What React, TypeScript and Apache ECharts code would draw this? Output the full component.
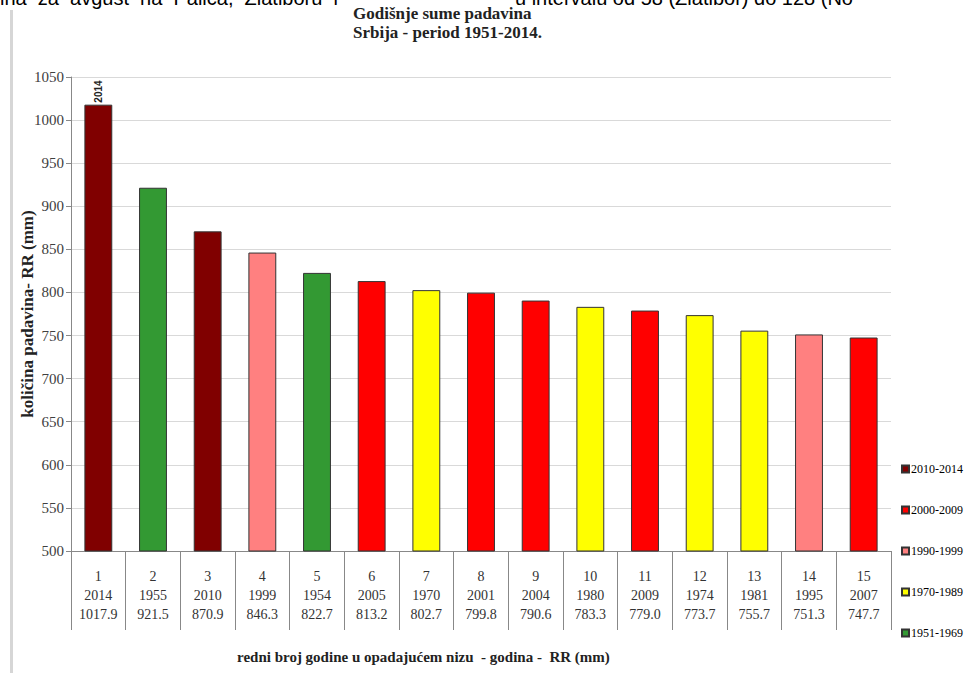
import React, { useEffect, useRef } from "react";
import * as echarts from "echarts";

const ranks = ["1", "2", "3", "4", "5", "6", "7", "8", "9", "10", "11", "12", "13", "14", "15"];
const years = [2014, 1955, 2010, 1999, 1954, 2005, 1970, 2001, 2004, 1980, 2009, 1974, 1981, 1995, 2007];
const values = [1017.9, 921.5, 870.9, 846.3, 822.7, 813.2, 802.7, 799.8, 790.6, 783.3, 779.0, 773.7, 755.7, 751.3, 747.7];
const periods = ["2010-2014", "2000-2009", "1990-1999", "1970-1989", "1951-1969"];
const periodStarts = [2010, 2000, 1990, 1970, 1951];
const periodColors = ["#800000", "#FF0000", "#FF8080", "#FFFF00", "#339933"];
const yTicks = { min: 500, max: 1050, interval: 50 };

const SERIF = "'Liberation Serif', 'Times New Roman', serif";
const SANS = "'Liberation Sans', Arial, sans-serif";

function periodOf(y: number): string {
  for (let i = 0; i < periodStarts.length; i++) {
    if (y >= periodStarts[i]) return periods[i];
  }
  return periods[periods.length - 1];
}

export default function App() {
  const ref = useRef<HTMLDivElement>(null);
  useEffect(() => {
    if (!ref.current) return;
    const chart = echarts.init(ref.current, null, { renderer: "svg" });
    const series = periods.map((p, pi) => ({
      name: p,
      type: "bar",
      barGap: "-100%",
      barWidth: "51%",
      itemStyle: { color: periodColors[pi], borderColor: "#333", borderWidth: 1 },
      data: values.map((v, i) => {
        if (periodOf(years[i]) !== p) return null;
        if (i === 0) {
          return {
            value: v,
            label: {
              show: true,
              position: "top",
              rotate: 90,
              align: "left",
              verticalAlign: "middle",
              distance: 2,
              formatter: String(years[i]),
              fontFamily: SANS,
              fontSize: 10,
              fontWeight: "bold",
              color: "#222",
            },
          };
        }
        return v;
      }),
    }));
    chart.setOption({
      animation: false,
      backgroundColor: "#ffffff",
      grid: { left: 71, right: 77, top: 77, bottom: 122, containLabel: false },
      legend: {
        orient: "vertical",
        left: 896,
        top: 457,
        itemWidth: 7,
        itemHeight: 7,
        itemGap: 27,
        icon: "rect",
        inactiveColor: "#ccc",
        textStyle: { fontFamily: SERIF, fontSize: 12, color: "#000", lineHeight: 14, padding: [0, 0, 0, -3] },
        data: periods,
      },
      xAxis: {
        type: "category",
        data: ranks,
        axisLine: { show: true, lineStyle: { color: "#888", width: 1 } },
        axisTick: { show: true, length: 79, lineStyle: { color: "#888", width: 1 } },
        axisLabel: {
          interval: 0,
          margin: 16,
          fontFamily: SERIF,
          fontSize: 14,
          color: "#333",
          lineHeight: 19,
          formatter: (val: string, idx: number) => `${val}\n${years[idx]}\n${values[idx].toFixed(1)}`,
        },
      },
      yAxis: {
        type: "value",
        min: yTicks.min,
        max: yTicks.max,
        interval: yTicks.interval,
        name: "količina padavina- RR (mm)",
        nameLocation: "middle",
        nameGap: 35,
        nameMoveOverlap: false,
        nameTextStyle: { fontFamily: SERIF, fontSize: 17, fontWeight: "bold", color: "#222" },
        axisLine: { show: true, lineStyle: { color: "#888", width: 1 } },
        axisTick: { show: true, length: 5, lineStyle: { color: "#888" } },
        axisLabel: {
          fontFamily: SERIF,
          fontSize: 15,
          color: "#404040",
          margin: 7,
          formatter: (v: number) => String(v),
        },
        splitLine: { show: true, lineStyle: { color: "#d9d9d9", width: 1 } },
      },
      graphic: [
        {
          type: "text",
          left: 0,
          top: -12,
          style: {
            text: "ina  za  avgust  na  Palića,  Zlatiboru  i",
            fontFamily: SANS,
            fontSize: 20,
            fill: "#000",
          },
        },
        {
          type: "text",
          left: 515,
          top: -12,
          style: {
            text: "u intervalu od 58 (Zlatibor) do 128 (No",
            fontFamily: SANS,
            fontSize: 20,
            fill: "#000",
          },
        },
        {
          type: "rect",
          shape: { x: 10, y: 10, width: 3, height: 663 },
          style: { fill: "#d6d6d6" },
        },
        {
          type: "text",
          left: 353,
          top: 4,
          style: {
            text: "Godišnje sume padavina\nSrbija - period 1951-2014.",
            fontFamily: SERIF,
            fontSize: 17,
            fontWeight: "bold",
            lineHeight: 19,
            fill: "#222",
          },
        },
        {
          type: "text",
          left: 237,
          top: 649,
          style: {
            text: "redni broj godine u opadajućem nizu  - godina -  RR (mm)",
            fontFamily: SERIF,
            fontSize: 15,
            fontWeight: "bold",
            fill: "#222",
          },
        },
      ],
      series,
    });
    return () => chart.dispose();
  }, []);
  return <div ref={ref} style={{ position: "absolute", left: 0, top: 0, width: 968, height: 673 }} />;
}
